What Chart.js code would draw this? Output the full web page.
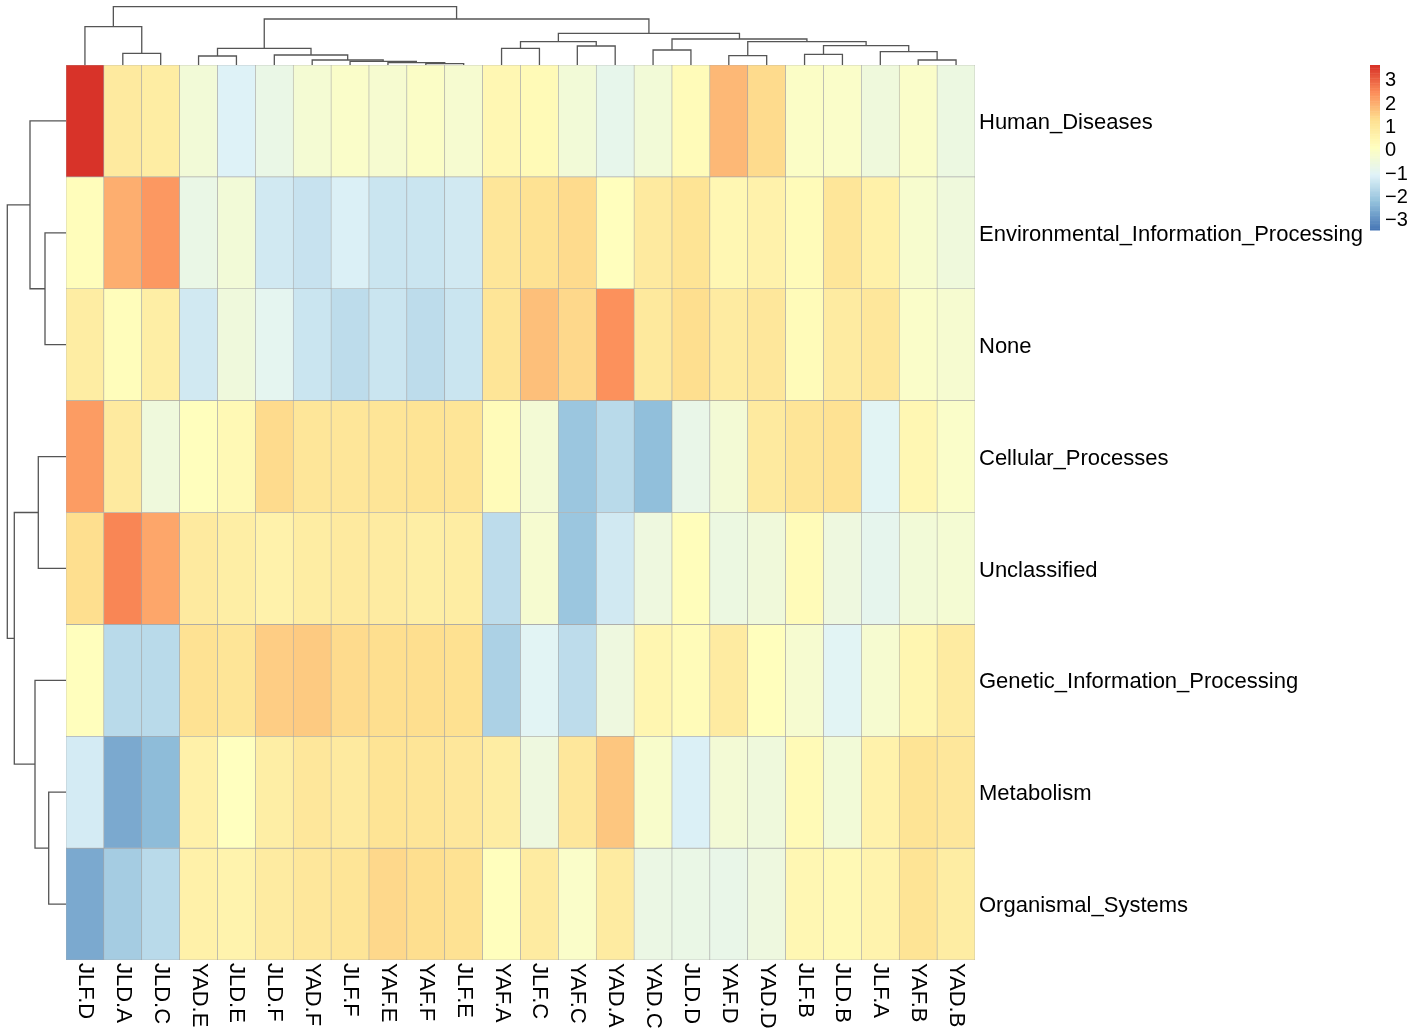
<!DOCTYPE html>
<html>
<head>
<meta charset="UTF-8">
<title>Heatmap</title>
<script src="https://cdn.jsdelivr.net/npm/chart.js"></script>
<style>
  body { margin: 0; background: #fff; }
  #wrap { position: relative; width: 1416px; height: 1035px; }
  #wrap canvas { position: absolute; left: 0; top: 0; }
</style>
</head>
<body>
<div id="wrap">
  <canvas id="heat" width="1416" height="1035"></canvas>
  <canvas id="colTree" width="1416" height="1035"></canvas>
  <canvas id="rowTree" width="1416" height="1035"></canvas>
</div>
<script>
// columns and rows in the order shown
const columns = ['JLF.D', 'JLD.A', 'JLD.C', 'YAD.E', 'JLD.E', 'JLD.F', 'YAD.F', 'JLF.F', 'YAF.E', 'YAF.F', 'JLF.E', 'YAF.A',
                 'JLF.C', 'YAF.C', 'YAD.A', 'YAD.C', 'JLD.D', 'YAF.D', 'YAD.D', 'JLF.B', 'JLD.B', 'JLF.A', 'YAF.B', 'YAD.B'];
const rows = ['Human_Diseases', 'Environmental_Information_Processing', 'None', 'Cellular_Processes',
              'Unclassified', 'Genetic_Information_Processing', 'Metabolism', 'Organismal_Systems'];

// scaled values, one array per row
const humanDiseases = [3.6, 0.9, 0.8, -0.4, -1.1, -0.7, -0.3, -0.1, -0.25, -0.05, -0.25, 0.4, 0.3, -0.4, -0.8, -0.4, 0.25, 1.85, 1.35, -0.05, -0.1, -0.5, -0.1, -0.6];
const envInfoProcessing = [0.2, 2.0, 2.3, -0.7, -0.4, -1.3, -1.45, -1.15, -1.4, -1.4, -1.3, 1.05, 1.2, 1.35, 0.15, 0.9, 1.15, 0.4, 0.6, 0.25, 1.05, 0.65, -0.2, -0.5];
const noneRow = [0.8, 0.2, 0.75, -1.3, -0.5, -0.9, -1.4, -1.6, -1.4, -1.6, -1.4, 1.1, 1.75, 1.4, 2.4, 0.95, 1.3, 0.85, 1.0, 0.25, 0.85, 1.0, -0.1, -0.25];
const cellularProcesses = [2.25, 0.9, -0.5, 0.15, 0.35, 1.35, 1.05, 1.05, 1.1, 1.15, 1.1, 0.25, -0.35, -2.1, -1.65, -2.25, -0.75, -0.35, 0.9, 1.1, 1.2, -1.0, 0.4, -0.1];
const unclassified = [1.3, 2.55, 2.1, 0.9, 0.75, 0.6, 0.8, 0.9, 0.85, 0.75, 0.8, -1.6, -0.25, -2.1, -1.3, -0.55, 0.2, -0.6, -0.45, 0.25, -0.55, -0.85, -0.4, -0.3];
const geneticInfoProcessing = [0.15, -1.65, -1.65, 1.2, 1.1, 1.55, 1.6, 1.35, 1.3, 1.3, 1.25, -1.85, -1.0, -1.6, -0.55, 0.45, 0.25, 0.85, 0.15, -0.25, -1.0, -0.25, 0.45, 0.85];
const metabolism = [-1.25, -2.6, -2.3, 0.65, 0.1, 0.75, 1.0, 0.9, 1.15, 1.1, 1.0, 0.8, -0.55, 1.0, 1.65, -0.15, -1.15, -0.35, -0.5, 0.3, -0.4, 0.6, 1.15, 1.0];
const organismalSystems = [-2.6, -1.95, -1.65, 0.65, 0.55, 0.85, 1.0, 1.1, 1.4, 1.3, 1.2, 0.15, 0.85, -0.1, 0.85, -0.65, -0.7, -0.75, -0.55, 0.4, 0.35, 0.55, 1.15, 0.8];
const values = [humanDiseases, envInfoProcessing, noneRow, cellularProcesses, unclassified, geneticInfoProcessing, metabolism, organismalSystems];

// dendrograms, hclust style: negative = leaf (1-based display position), positive = earlier merge
const colMerges = [
  [-2, -3, 11.7], [-1, 1, 38.3], [-4, -5, 9], [-10, -11, 1.3], [-9, 4, 2.3], [-8, 5, 3.7], [-7, 6, 5],
  [-6, 7, 10], [3, 8, 16.7], [-12, -13, 16.7], [-14, -15, 19], [10, 11, 23.3], [-16, -17, 15],
  [-18, -19, 9.3], [-20, -21, 10.7], [-23, -24, 5], [-22, 16, 13.3], [15, 17, 19.3], [14, 18, 23.3],
  [13, 19, 26], [12, 20, 31.7], [9, 21, 46], [2, 22, 58.3]
];
const rowMerges = [
  [-2, -3, 21], [-1, 1, 36], [-4, -5, 27.7], [-7, -8, 17.3], [-6, 4, 31], [3, 5, 51.7], [2, 6, 58.7]
];

// colour key
const rampColors = ['#4575B4', '#91BFDB', '#E0F3F8', '#FFFFBF', '#FEE090', '#FC8D59', '#D73027'];
const rampMin = -3.43, rampMax = 3.64;
const legendTicks = [3, 2, 1, 0, -1, -2, -3];

function hex(c) { return [1, 3, 5].map(i => parseInt(c.slice(i, i + 2), 16)); }
function rampColor(v) {
  let t = (v - rampMin) / (rampMax - rampMin);
  t = Math.max(0, Math.min(1, t)) * (rampColors.length - 1);
  const i = Math.min(Math.floor(t), rampColors.length - 2);
  const f = t - i;
  const a = hex(rampColors[i]), b = hex(rampColors[i + 1]);
  const m = a.map((x, k) => Math.round(x + (b[k] - x) * f));
  return `rgb(${m[0]},${m[1]},${m[2]})`;
}

function treeSegments(merges) {
  const nodes = [];
  const get = id => id < 0 ? {p: -id - 0.5, h: 0} : nodes[id - 1];
  return merges.map(([a, b, h]) => {
    const A = get(a), B = get(b);
    nodes.push({p: (A.p + B.p) / 2, h});
    return [{p: A.p, h: A.h}, {p: A.p, h}, {p: B.p, h}, {p: B.p, h: B.h}];
  });
}

const FONT = '"Liberation Sans", Arial, Helvetica, sans-serif';
const pad = {left: 66, top: 65, right: 441, bottom: 75};

const labelPlugin = {
  id: 'heatLabels',
  afterDraw(chart) {
    const {ctx, chartArea, scales: {x, y}} = chart;
    ctx.save();
    ctx.fillStyle = '#000';
    ctx.font = '22px ' + FONT;
    ctx.textBaseline = 'middle';
    ctx.textAlign = 'left';
    rows.forEach((name, r) => ctx.fillText(name, chartArea.right + 4, y.getPixelForValue(r + 0.5) + 2));
    columns.forEach((name, i) => {
      ctx.save();
      ctx.translate(x.getPixelForValue(i + 0.5), chartArea.bottom + 3);
      ctx.rotate(Math.PI / 2);
      ctx.fillText(name, 0, 0);
      ctx.restore();
    });

    // colour key
    const kx = 1370, kw = 10, ky = 65, kh = 165;
    const keyY = v => ky + (rampMax - v) / (rampMax - rampMin) * kh;
    const steps = 100;
    for (let s = 0; s < steps; s++) {
      const v0 = rampMax - (rampMax - rampMin) * s / steps;
      const v1 = rampMax - (rampMax - rampMin) * (s + 1) / steps;
      ctx.fillStyle = rampColor((v0 + v1) / 2);
      ctx.fillRect(kx, keyY(v0), kw, keyY(v1) - keyY(v0) + 0.5);
    }
    ctx.fillStyle = '#000';
    ctx.font = '20px ' + FONT;
    legendTicks.forEach(t => ctx.fillText(String(t).replace('-', '\u2212'), kx + 15, keyY(t) + 1));
    ctx.restore();
  }
};

new Chart(document.getElementById('heat'), {
  type: 'bar',
  data: {
    datasets: rows.map((name, r) => ({
      label: name,
      data: columns.map((c, i) => ({x: i + 0.5, y: [r, r + 1]})),
      backgroundColor: values[r].map(rampColor),
      borderColor: '#a6a6a6',
      borderWidth: 0.6,
      borderSkipped: false,
      grouped: false,
      barPercentage: 1,
      categoryPercentage: 1
    }))
  },
  options: {
    responsive: false,
    animation: false,
    layout: {padding: pad},
    plugins: {legend: {display: false}, tooltip: {enabled: false}},
    scales: {
      x: {type: 'linear', min: 0, max: columns.length, offset: false, display: false, ticks: {stepSize: 1}},
      y: {type: 'linear', min: 0, max: rows.length, reverse: true, display: false}
    }
  },
  plugins: [labelPlugin]
});

const treeStyle = {showLine: true, pointRadius: 0, borderColor: '#555', borderWidth: 1.3, clip: false, fill: false};
const colTop = Math.max(...colMerges.map(m => m[2]));
const rowTop = Math.max(...rowMerges.map(m => m[2]));

new Chart(document.getElementById('colTree'), {
  type: 'scatter',
  data: {
    datasets: treeSegments(colMerges).map(seg => ({...treeStyle, data: seg.map(q => ({x: q.p, y: q.h}))}))
  },
  options: {
    responsive: false,
    animation: false,
    layout: {padding: {left: pad.left, right: pad.right, top: 6.7, bottom: 1035 - pad.top}},
    plugins: {legend: {display: false}, tooltip: {enabled: false}},
    scales: {
      x: {type: 'linear', min: 0, max: columns.length, display: false},
      y: {type: 'linear', min: 0, max: colTop, display: false}
    }
  }
});

new Chart(document.getElementById('rowTree'), {
  type: 'scatter',
  data: {
    datasets: treeSegments(rowMerges).map(seg => ({...treeStyle, data: seg.map(q => ({x: q.h, y: q.p}))}))
  },
  options: {
    responsive: false,
    animation: false,
    layout: {padding: {left: 7.3, right: 1416 - pad.left, top: pad.top, bottom: pad.bottom}},
    plugins: {legend: {display: false}, tooltip: {enabled: false}},
    scales: {
      x: {type: 'linear', min: 0, max: rowTop, reverse: true, display: false},
      y: {type: 'linear', min: 0, max: rows.length, reverse: true, display: false}
    }
  }
});
</script>
</body>
</html>
